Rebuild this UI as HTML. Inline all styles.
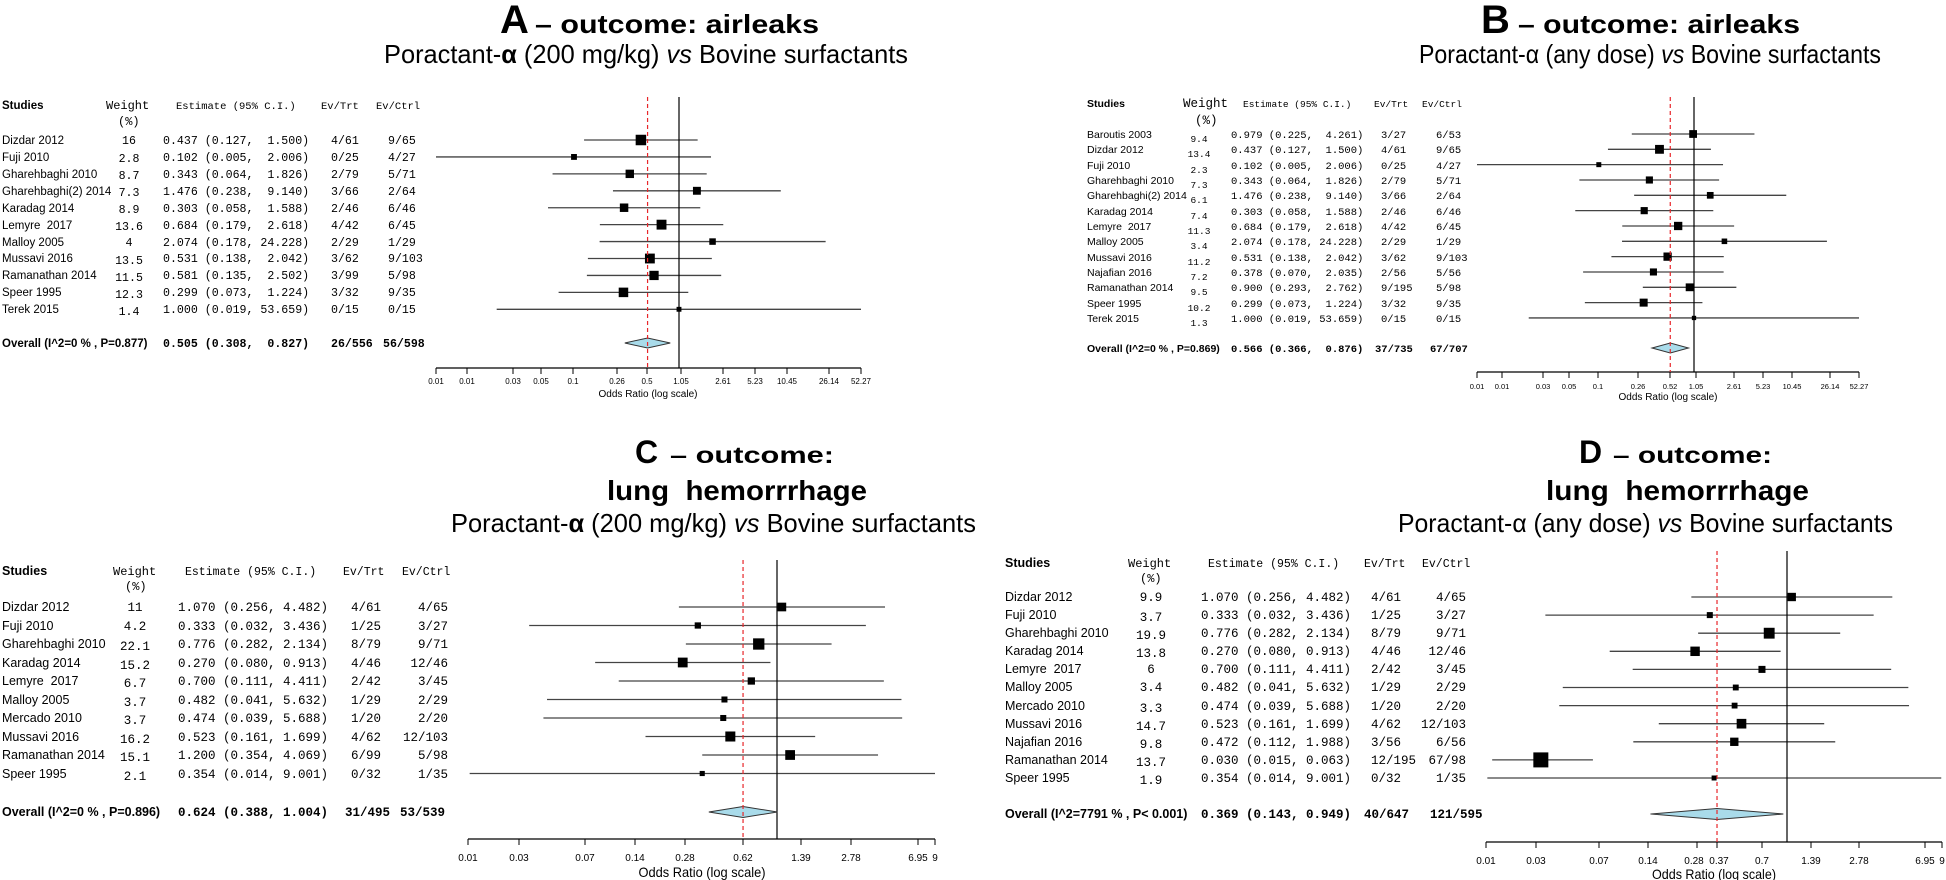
<!DOCTYPE html>
<html><head><meta charset="utf-8"><style>
body{margin:0;background:#fff}
svg{display:block}
text{white-space:pre;fill:#000}
.s{font-family:"Liberation Sans",sans-serif}
.m{font-family:"Liberation Mono",monospace}
.b{font-weight:bold}
.a{font-size:11.5px}.am{font-size:11.6px}
.bb{font-size:10.5px}.bm{font-size:10.5px}
.c{font-size:12.5px}.cm{font-size:12.5px}
</style></head><body>
<svg id="g" width="1946" height="880" viewBox="0 0 1946 880" xmlns="http://www.w3.org/2000/svg">
<!-- TITLES -->
<text class="s b" x="500" y="33" font-size="40">A</text>
<text class="s b" x="535" y="33" font-size="26" textLength="284" lengthAdjust="spacingAndGlyphs">– outcome: airleaks</text>
<text class="s" x="384" y="63" font-size="26" textLength="524" lengthAdjust="spacingAndGlyphs">Poractant-<tspan font-weight="bold">α</tspan> (200 mg/kg) <tspan font-style="italic">vs</tspan> Bovine surfactants</text>
<text class="s b" x="1481" y="33" font-size="40">B</text>
<text class="s b" x="1518" y="33" font-size="26" textLength="282" lengthAdjust="spacingAndGlyphs">– outcome: airleaks</text>
<text class="s" x="1419" y="63" font-size="26" textLength="462" lengthAdjust="spacingAndGlyphs">Poractant-α (any dose) <tspan font-style="italic">vs</tspan> Bovine surfactants</text>
<text class="s b" x="635" y="463" font-size="32">C</text>
<text class="s b" x="670" y="463" font-size="23" textLength="164" lengthAdjust="spacingAndGlyphs">– outcome:</text>
<text class="s b" x="607" y="500" font-size="28" textLength="260" lengthAdjust="spacingAndGlyphs">lung  hemorrrhage</text>
<text class="s" x="451" y="532" font-size="26" textLength="525" lengthAdjust="spacingAndGlyphs">Poractant-<tspan font-weight="bold">α</tspan> (200 mg/kg) <tspan font-style="italic">vs</tspan> Bovine surfactants</text>
<text class="s b" x="1579" y="463" font-size="32">D</text>
<text class="s b" x="1613" y="463" font-size="23" textLength="159" lengthAdjust="spacingAndGlyphs">– outcome:</text>
<text class="s b" x="1546" y="500" font-size="28" textLength="263" lengthAdjust="spacingAndGlyphs">lung  hemorrrhage</text>
<text class="s" x="1398" y="532" font-size="26" textLength="495" lengthAdjust="spacingAndGlyphs">Poractant-α (any dose) <tspan font-style="italic">vs</tspan> Bovine surfactants</text>

<!-- PANEL A TABLE -->
<g class="a">
<text class="s b" x="2" y="109">Studies</text>
<text class="m" x="106" y="109" font-size="12">Weight</text>
<text class="m" x="118" y="125" font-size="12">(%)</text>
<text class="m" x="176" y="109" font-size="10.5">Estimate (95% C.I.)</text>
<text class="m" x="321" y="109" font-size="10.5">Ev/Trt</text>
<text class="m" x="376" y="109" font-size="10.5">Ev/Ctrl</text>
</g>
<g class="s a">
<text x="2" y="144">Dizdar 2012</text><text x="2" y="161">Fuji 2010</text><text x="2" y="178">Gharehbaghi 2010</text><text x="2" y="195">Gharehbaghi(2) 2014</text><text x="2" y="212">Karadag 2014</text><text x="2" y="229">Lemyre  2017</text><text x="2" y="246">Malloy 2005</text><text x="2" y="262">Mussavi 2016</text><text x="2" y="279">Ramanathan 2014</text><text x="2" y="296">Speer 1995</text><text x="2" y="313">Terek 2015</text>
<text x="2" y="347" class="b">Overall (I^2=0 % , P=0.877)</text>
</g>
<g class="m am" text-anchor="middle">
<text x="129" y="144">16</text><text x="129" y="162">2.8</text><text x="129" y="179">8.7</text><text x="129" y="196">7.3</text><text x="129" y="213">8.9</text><text x="129" y="230">13.6</text><text x="129" y="246">4</text><text x="129" y="264">13.5</text><text x="129" y="281">11.5</text><text x="129" y="298">12.3</text><text x="129" y="315">1.4</text>
</g>
<g class="m am">
<text x="163" y="144">0.437 (0.127,  1.500)</text><text x="163" y="161">0.102 (0.005,  2.006)</text><text x="163" y="178">0.343 (0.064,  1.826)</text><text x="163" y="195">1.476 (0.238,  9.140)</text><text x="163" y="212">0.303 (0.058,  1.588)</text><text x="163" y="229">0.684 (0.179,  2.618)</text><text x="163" y="246">2.074 (0.178, 24.228)</text><text x="163" y="262">0.531 (0.138,  2.042)</text><text x="163" y="279">0.581 (0.135,  2.502)</text><text x="163" y="296">0.299 (0.073,  1.224)</text><text x="163" y="313">1.000 (0.019, 53.659)</text>
<text x="331" y="144">4/61</text><text x="331" y="161">0/25</text><text x="331" y="178">2/79</text><text x="331" y="195">3/66</text><text x="331" y="212">2/46</text><text x="331" y="229">4/42</text><text x="331" y="246">2/29</text><text x="331" y="262">3/62</text><text x="331" y="279">3/99</text><text x="331" y="296">3/32</text><text x="331" y="313">0/15</text>
<text x="388" y="144">9/65</text><text x="388" y="161">4/27</text><text x="388" y="178">5/71</text><text x="388" y="195">2/64</text><text x="388" y="212">6/46</text><text x="388" y="229">6/45</text><text x="388" y="246">1/29</text><text x="388" y="262">9/103</text><text x="388" y="279">5/98</text><text x="388" y="296">9/35</text><text x="388" y="313">0/15</text>
<g class="b"><text x="163" y="347">0.505 (0.308,  0.827)</text><text x="331" y="347">26/556</text><text x="383" y="347">56/598</text></g>
</g>

<!-- PANEL B TABLE -->
<text class="s b" x="1087" y="107" font-size="10.5">Studies</text>
<text class="m" x="1183" y="107" font-size="12.5">Weight</text>
<text class="m" x="1195" y="124" font-size="12.5">(%)</text>
<text class="m" x="1243" y="107" font-size="9.5">Estimate (95% C.I.)</text>
<text class="m" x="1374" y="107" font-size="9.5">Ev/Trt</text>
<text class="m" x="1422" y="107" font-size="9.5">Ev/Ctrl</text>
<g class="s bb">
<text x="1087" y="138">Baroutis 2003</text><text x="1087" y="153">Dizdar 2012</text><text x="1087" y="169">Fuji 2010</text><text x="1087" y="184">Gharehbaghi 2010</text><text x="1087" y="199">Gharehbaghi(2) 2014</text><text x="1087" y="215">Karadag 2014</text><text x="1087" y="230">Lemyre  2017</text><text x="1087" y="245">Malloy 2005</text><text x="1087" y="261">Mussavi 2016</text><text x="1087" y="276">Najafian 2016</text><text x="1087" y="291">Ramanathan 2014</text><text x="1087" y="307">Speer 1995</text><text x="1087" y="322">Terek 2015</text>
<text x="1087" y="352" class="b">Overall (I^2=0 % , P=0.869)</text>
</g>
<g class="m" font-size="9.5" text-anchor="middle">
<text x="1199" y="142">9.4</text><text x="1199" y="157">13.4</text><text x="1199" y="173">2.3</text><text x="1199" y="188">7.3</text><text x="1199" y="203">6.1</text><text x="1199" y="219">7.4</text><text x="1199" y="234">11.3</text><text x="1199" y="249">3.4</text><text x="1199" y="265">11.2</text><text x="1199" y="280">7.2</text><text x="1199" y="295">9.5</text><text x="1199" y="311">10.2</text><text x="1199" y="326">1.3</text>
</g>
<g class="m bm">
<text x="1231" y="138">0.979 (0.225,  4.261)</text><text x="1231" y="153">0.437 (0.127,  1.500)</text><text x="1231" y="169">0.102 (0.005,  2.006)</text><text x="1231" y="184">0.343 (0.064,  1.826)</text><text x="1231" y="199">1.476 (0.238,  9.140)</text><text x="1231" y="215">0.303 (0.058,  1.588)</text><text x="1231" y="230">0.684 (0.179,  2.618)</text><text x="1231" y="245">2.074 (0.178, 24.228)</text><text x="1231" y="261">0.531 (0.138,  2.042)</text><text x="1231" y="276">0.378 (0.070,  2.035)</text><text x="1231" y="291">0.900 (0.293,  2.762)</text><text x="1231" y="307">0.299 (0.073,  1.224)</text><text x="1231" y="322">1.000 (0.019, 53.659)</text>
<text x="1381" y="138">3/27</text><text x="1381" y="153">4/61</text><text x="1381" y="169">0/25</text><text x="1381" y="184">2/79</text><text x="1381" y="199">3/66</text><text x="1381" y="215">2/46</text><text x="1381" y="230">4/42</text><text x="1381" y="245">2/29</text><text x="1381" y="261">3/62</text><text x="1381" y="276">2/56</text><text x="1381" y="291">9/195</text><text x="1381" y="307">3/32</text><text x="1381" y="322">0/15</text>
<text x="1436" y="138">6/53</text><text x="1436" y="153">9/65</text><text x="1436" y="169">4/27</text><text x="1436" y="184">5/71</text><text x="1436" y="199">2/64</text><text x="1436" y="215">6/46</text><text x="1436" y="230">6/45</text><text x="1436" y="245">1/29</text><text x="1436" y="261">9/103</text><text x="1436" y="276">5/56</text><text x="1436" y="291">5/98</text><text x="1436" y="307">9/35</text><text x="1436" y="322">0/15</text>
<g class="b"><text x="1231" y="352">0.566 (0.366,  0.876)</text><text x="1375" y="352">37/735</text><text x="1430" y="352">67/707</text></g>
</g>

<!-- PANEL C TABLE -->
<text class="s b c" x="2" y="575">Studies</text>
<text class="m" x="113" y="575" font-size="12">Weight</text>
<text class="m" x="125" y="590" font-size="12">(%)</text>
<text class="m" x="185" y="575" font-size="11.5">Estimate (95% C.I.)</text>
<text class="m" x="343" y="575" font-size="11.5">Ev/Trt</text>
<text class="m" x="402" y="575" font-size="11.5">Ev/Ctrl</text>
<g class="s c">
<text x="2" y="611">Dizdar 2012</text><text x="2" y="630">Fuji 2010</text><text x="2" y="648">Gharehbaghi 2010</text><text x="2" y="667">Karadag 2014</text><text x="2" y="685">Lemyre  2017</text><text x="2" y="704">Malloy 2005</text><text x="2" y="722">Mercado 2010</text><text x="2" y="741">Mussavi 2016</text><text x="2" y="759">Ramanathan 2014</text><text x="2" y="778">Speer 1995</text>
<text x="2" y="816" class="b">Overall (I^2=0 % , P=0.896)</text>
</g>
<g class="m cm" text-anchor="middle">
<text x="135" y="611">11</text><text x="135" y="630">4.2</text><text x="135" y="650">22.1</text><text x="135" y="669">15.2</text><text x="135" y="687">6.7</text><text x="135" y="706">3.7</text><text x="135" y="724">3.7</text><text x="135" y="743">16.2</text><text x="135" y="761">15.1</text><text x="135" y="780">2.1</text>
</g>
<g class="m cm">
<text x="178" y="611">1.070 (0.256, 4.482)</text><text x="178" y="630">0.333 (0.032, 3.436)</text><text x="178" y="648">0.776 (0.282, 2.134)</text><text x="178" y="667">0.270 (0.080, 0.913)</text><text x="178" y="685">0.700 (0.111, 4.411)</text><text x="178" y="704">0.482 (0.041, 5.632)</text><text x="178" y="722">0.474 (0.039, 5.688)</text><text x="178" y="741">0.523 (0.161, 1.699)</text><text x="178" y="759">1.200 (0.354, 4.069)</text><text x="178" y="778">0.354 (0.014, 9.001)</text>
<text x="351" y="611">4/61</text><text x="351" y="630">1/25</text><text x="351" y="648">8/79</text><text x="351" y="667">4/46</text><text x="351" y="685">2/42</text><text x="351" y="704">1/29</text><text x="351" y="722">1/20</text><text x="351" y="741">4/62</text><text x="351" y="759">6/99</text><text x="351" y="778">0/32</text>
<g text-anchor="end"><text x="448" y="611">4/65</text><text x="448" y="630">3/27</text><text x="448" y="648">9/71</text><text x="448" y="667">12/46</text><text x="448" y="685">3/45</text><text x="448" y="704">2/29</text><text x="448" y="722">2/20</text><text x="448" y="741">12/103</text><text x="448" y="759">5/98</text><text x="448" y="778">1/35</text></g>
<g class="b"><text x="178" y="816">0.624 (0.388, 1.004)</text><text x="345" y="816">31/495</text><text x="400" y="816">53/539</text></g>
</g>

<!-- PANEL D TABLE -->
<text class="s b c" x="1005" y="567">Studies</text>
<text class="m" x="1128" y="567" font-size="12">Weight</text>
<text class="m" x="1140" y="582" font-size="12">(%)</text>
<text class="m" x="1208" y="567" font-size="11.5">Estimate (95% C.I.)</text>
<text class="m" x="1364" y="567" font-size="11.5">Ev/Trt</text>
<text class="m" x="1422" y="567" font-size="11.5">Ev/Ctrl</text>
<g class="s c">
<text x="1005" y="601">Dizdar 2012</text><text x="1005" y="619">Fuji 2010</text><text x="1005" y="637">Gharehbaghi 2010</text><text x="1005" y="655">Karadag 2014</text><text x="1005" y="673">Lemyre  2017</text><text x="1005" y="691">Malloy 2005</text><text x="1005" y="710">Mercado 2010</text><text x="1005" y="728">Mussavi 2016</text><text x="1005" y="746">Najafian 2016</text><text x="1005" y="764">Ramanathan 2014</text><text x="1005" y="782">Speer 1995</text>
<text x="1005" y="818" class="b">Overall (I^2=7791 % , P&lt; 0.001)</text>
</g>
<g class="m cm" text-anchor="middle">
<text x="1151" y="601">9.9</text><text x="1151" y="621">3.7</text><text x="1151" y="639">19.9</text><text x="1151" y="657">13.8</text><text x="1151" y="673">6</text><text x="1151" y="691">3.4</text><text x="1151" y="712">3.3</text><text x="1151" y="730">14.7</text><text x="1151" y="748">9.8</text><text x="1151" y="766">13.7</text><text x="1151" y="784">1.9</text>
</g>
<g class="m cm">
<text x="1201" y="601">1.070 (0.256, 4.482)</text><text x="1201" y="619">0.333 (0.032, 3.436)</text><text x="1201" y="637">0.776 (0.282, 2.134)</text><text x="1201" y="655">0.270 (0.080, 0.913)</text><text x="1201" y="673">0.700 (0.111, 4.411)</text><text x="1201" y="691">0.482 (0.041, 5.632)</text><text x="1201" y="710">0.474 (0.039, 5.688)</text><text x="1201" y="728">0.523 (0.161, 1.699)</text><text x="1201" y="746">0.472 (0.112, 1.988)</text><text x="1201" y="764">0.030 (0.015, 0.063)</text><text x="1201" y="782">0.354 (0.014, 9.001)</text>
<text x="1371" y="601">4/61</text><text x="1371" y="619">1/25</text><text x="1371" y="637">8/79</text><text x="1371" y="655">4/46</text><text x="1371" y="673">2/42</text><text x="1371" y="691">1/29</text><text x="1371" y="710">1/20</text><text x="1371" y="728">4/62</text><text x="1371" y="746">3/56</text><text x="1371" y="764">12/195</text><text x="1371" y="782">0/32</text>
<g text-anchor="end"><text x="1466" y="601">4/65</text><text x="1466" y="619">3/27</text><text x="1466" y="637">9/71</text><text x="1466" y="655">12/46</text><text x="1466" y="673">3/45</text><text x="1466" y="691">2/29</text><text x="1466" y="710">2/20</text><text x="1466" y="728">12/103</text><text x="1466" y="746">6/56</text><text x="1466" y="764">67/98</text><text x="1466" y="782">1/35</text></g>
<g class="b"><text x="1201" y="818">0.369 (0.143, 0.949)</text><text x="1364" y="818">40/647</text><text x="1430" y="818">121/595</text></g>
</g>

<!-- AXIS LABELS -->
<g class="s" font-size="8" text-anchor="middle">
<text x="436" y="384">0.01</text><text x="467" y="384">0.01</text><text x="513" y="384">0.03</text><text x="541" y="384">0.05</text><text x="573" y="384">0.1</text><text x="617" y="384">0.26</text><text x="647" y="384">0.5</text><text x="681" y="384">1.05</text><text x="723" y="384">2.61</text><text x="755" y="384">5.23</text><text x="787" y="384">10.45</text><text x="829" y="384">26.14</text><text x="861" y="384">52.27</text>
</g>
<text class="s" x="648" y="397" font-size="10" text-anchor="middle">Odds Ratio (log scale)</text>
<g class="s" font-size="7.5" text-anchor="middle">
<text x="1477" y="389">0.01</text><text x="1502" y="389">0.01</text><text x="1543" y="389">0.03</text><text x="1569" y="389">0.05</text><text x="1598" y="389">0.1</text><text x="1638" y="389">0.26</text><text x="1670" y="389">0.52</text><text x="1696" y="389">1.05</text><text x="1734" y="389">2.61</text><text x="1763" y="389">5.23</text><text x="1792" y="389">10.45</text><text x="1830" y="389">26.14</text><text x="1859" y="389">52.27</text>
</g>
<text class="s" x="1668" y="400" font-size="10" text-anchor="middle">Odds Ratio (log scale)</text>
<g class="s" font-size="10" text-anchor="middle">
<text x="468" y="861">0.01</text><text x="519" y="861">0.03</text><text x="585" y="861">0.07</text><text x="635" y="861">0.14</text><text x="685" y="861">0.28</text><text x="743" y="861">0.62</text><text x="801" y="861">1.39</text><text x="851" y="861">2.78</text><text x="918" y="861">6.95</text><text x="935" y="861">9</text>
<text x="1486" y="864">0.01</text><text x="1536" y="864">0.03</text><text x="1599" y="864">0.07</text><text x="1648" y="864">0.14</text><text x="1694" y="864">0.28</text><text x="1719" y="864">0.37</text><text x="1762" y="864">0.7</text><text x="1811" y="864">1.39</text><text x="1859" y="864">2.78</text><text x="1925" y="864">6.95</text><text x="1942" y="864">9</text>
</g>
<text class="s" x="702" y="877" font-size="14" text-anchor="middle" textLength="127" lengthAdjust="spacingAndGlyphs">Odds Ratio (log scale)</text>
<text class="s" x="1714" y="879" font-size="14" text-anchor="middle" textLength="124" lengthAdjust="spacingAndGlyphs">Odds Ratio (log scale)</text>
<g id="shapes"></g>
</svg>
<script>
(function(){
var NS="http://www.w3.org/2000/svg",G=document.getElementById("shapes");
function el(t,a){var e=document.createElementNS(NS,t);for(var k in a)e.setAttribute(k,a[k]);G.appendChild(e);return e;}
function panel(P){
 var X=function(v){return P.c+P.k*Math.log(v);};
 el("line",{x1:P.L,x2:P.R,y1:P.ay,y2:P.ay,stroke:"#000","stroke-width":1.2});
 P.ticks.forEach(function(t){el("line",{x1:t,x2:t,y1:P.ay,y2:P.ay+6,stroke:"#000","stroke-width":1});});
 P.rows.forEach(function(r){
  var y=P.y0+P.dy*r[4];
  var x1=Math.max(P.L,X(r[1])),x2=Math.min(P.R,X(r[2]));
  el("line",{x1:x1,x2:x2,y1:y,y2:y,stroke:"#444","stroke-width":1.3});
  var s=r[5]||(P.sf*(2.5+2*Math.sqrt(r[3])));
  el("rect",{x:X(r[0])-s/2,y:y-s/2,width:s,height:s,fill:"#000"});
 });
 el("line",{x1:X(1),x2:X(1),y1:P.top,y2:P.ay,stroke:"#000","stroke-width":1.2});
 var o=P.ov,xe=X(o[0]),h=P.dh;
 el("polygon",{points:X(o[1])+","+o[3]+" "+xe+","+(o[3]-h)+" "+X(o[2])+","+o[3]+" "+xe+","+(o[3]+h),fill:"#a9dbea",stroke:"#333","stroke-width":1});
 el("line",{x1:xe,x2:xe,y1:P.top,y2:P.ay,stroke:"#e8262a","stroke-width":1.2,"stroke-dasharray":"4,3"});
}
panel({c:679,k:46,L:436,R:861,ay:368,top:97,y0:140,dy:16.93,sf:1,dh:5,
 ticks:[436,467,513,541,573,617,647,681,723,755,787,829,861],
 rows:[[0.437,0.127,1.5,16,0],[0.102,0.005,2.006,2.8,1],[0.343,0.064,1.826,8.7,2],[1.476,0.238,9.14,7.3,3],[0.303,0.058,1.588,8.9,4],[0.684,0.179,2.618,13.6,5],[2.074,0.178,24.228,4,6],[0.531,0.138,2.042,13.5,7],[0.581,0.135,2.502,11.5,8],[0.299,0.073,1.224,12.3,9],[1,0.019,53.659,1.4,10]],
 ov:[0.505,0.308,0.827,343]});
panel({c:1694,k:41.7,L:1477,R:1859,ay:372,top:97,y0:134,dy:15.33,sf:0.9,dh:5,
 ticks:[1477,1502,1543,1569,1598,1638,1670,1696,1734,1763,1792,1830,1859],
 rows:[[0.979,0.225,4.261,9.4,0],[0.437,0.127,1.5,13.4,1],[0.102,0.005,2.006,2.3,2],[0.343,0.064,1.826,7.3,3],[1.476,0.238,9.14,6.1,4],[0.303,0.058,1.588,7.4,5],[0.684,0.179,2.618,11.3,6],[2.074,0.178,24.228,3.4,7],[0.531,0.138,2.042,11.2,8],[0.378,0.07,2.035,7.2,9],[0.9,0.293,2.762,9.5,10],[0.299,0.073,1.224,10.2,11],[1,0.019,53.659,1.3,12]],
 ov:[0.566,0.366,0.876,348]});
panel({c:777,k:72,L:468,R:935,ay:839,top:560,y0:607,dy:18.5,sf:0.95,dh:5.5,
 ticks:[468,519,585,635,685,743,801,851,918,935],
 rows:[[1.07,0.256,4.482,11,0],[0.333,0.032,3.436,4.2,1],[0.776,0.282,2.134,22.1,2],[0.27,0.08,0.913,15.2,3],[0.7,0.111,4.411,6.7,4],[0.482,0.041,5.632,3.7,5],[0.474,0.039,5.688,3.7,6],[0.523,0.161,1.699,16.2,7],[1.2,0.354,4.069,15.1,8],[0.354,0.014,9.001,2.1,9]],
 ov:[0.624,0.388,1.004,812]});
panel({c:1787,k:70.2,L:1486,R:1942,ay:842,top:551,y0:597,dy:18.1,sf:0.95,dh:5.5,
 ticks:[1486,1536,1599,1648,1697,1717,1762,1811,1859,1925,1942],
 rows:[[1.07,0.256,4.482,9.9,0],[0.333,0.032,3.436,3.7,1],[0.776,0.282,2.134,19.9,2],[0.27,0.08,0.913,13.8,3],[0.7,0.111,4.411,6,4],[0.482,0.041,5.632,3.4,5],[0.474,0.039,5.688,3.3,6],[0.523,0.161,1.699,14.7,7],[0.472,0.112,1.988,9.8,8],[0.03,0.015,0.063,13.7,9,15],[0.354,0.014,9.001,1.9,10]],
 ov:[0.369,0.143,0.949,814]});
})();
</script>
</body></html>
